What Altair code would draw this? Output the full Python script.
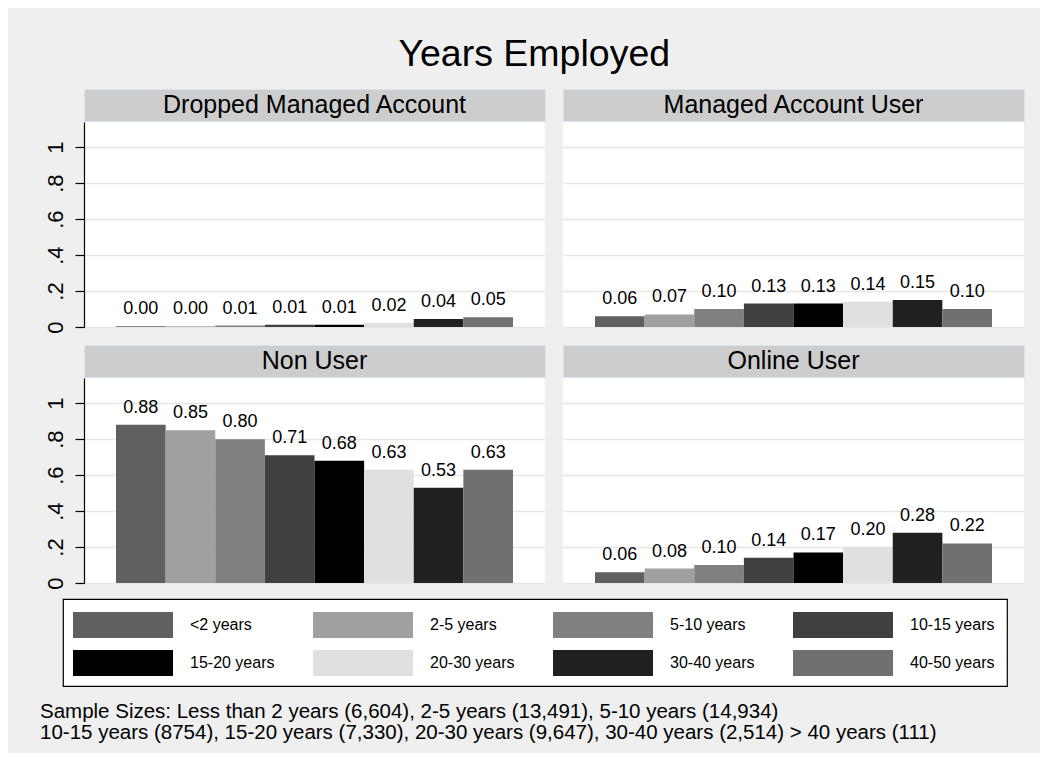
import altair as alt
import pandas as pd

FONT = "Liberation Sans"

categories = ["<2 years", "2-5 years", "5-10 years", "10-15 years",
              "15-20 years", "20-30 years", "30-40 years", "40-50 years"]
colors = ["#606060", "#a0a0a0", "#808080", "#404040",
          "#000000", "#e0e0e0", "#202020", "#707070"]

panel_names = ["Dropped Managed Account", "Managed Account User", "Non User", "Online User"]
dropped = [0.004, 0.004, 0.008, 0.012, 0.013, 0.022, 0.044, 0.054]
managed = [0.06, 0.07, 0.10, 0.13, 0.13, 0.14, 0.15, 0.10]
non_user = [0.88, 0.85, 0.80, 0.71, 0.68, 0.63, 0.53, 0.63]
online = [0.06, 0.08, 0.10, 0.14, 0.17, 0.20, 0.28, 0.22]

y_ticks = [0, 0.2, 0.4, 0.6, 0.8, 1.0]
title_text = "Years Employed"
notes = [
    "Sample Sizes: Less than 2 years (6,604), 2-5 years (13,491), 5-10 years (14,934)",
    "10-15 years (8754), 15-20 years (7,330), 20-30 years (9,647), 30-40 years (2,514) > 40 years (111)",
]

PW, PH, SH = 461, 205, 32
color_scale = alt.Scale(domain=categories, range=colors)


def panel(name, values, left):
    df = pd.DataFrame({"cat": categories, "value": values})
    if left:
        yaxis = alt.Axis(values=y_ticks, title=None, grid=True, gridColor="#e6e6e6", gridWidth=1.5,
                         domainColor="black", domainWidth=1.2, tickColor="black", tickSize=9,
                         tickWidth=1.2, labelPadding=8, labelAngle=270, labelAlign="center",
                         labelBaseline="bottom", labelFontSize=22, labelFont=FONT, labelColor="black",
                         labelExpr="datum.value == 0 ? '0' : datum.value == 1 ? '1' : replace(format(datum.value, '.1f'), '0.', '.')")
    else:
        yaxis = alt.Axis(values=y_ticks, title=None, grid=True, gridColor="#e6e6e6", gridWidth=1.5,
                         labels=False, ticks=False, domain=False)
    base = alt.Chart(df).encode(
        x=alt.X("cat:N", sort=categories, axis=None,
                scale=alt.Scale(paddingInner=0, paddingOuter=0.645)),
        y=alt.Y("value:Q", scale=alt.Scale(domain=[0, 1.14], nice=False, zero=True), axis=yaxis),
    )
    bars = base.mark_bar().encode(color=alt.Color("cat:N", scale=color_scale, legend=None))
    labels = base.mark_text(dy=-12, baseline="alphabetic", fontSize=18, font=FONT, color="black").encode(
        text=alt.Text("value:Q", format=".2f"))
    plot = alt.layer(bars, labels).properties(
        width=PW, height=PH, view=alt.ViewBackground(fill="white", stroke="white", strokeWidth=0))
    strip = alt.Chart(pd.DataFrame({"panel": [name]})).mark_text(
        fontSize=25, font=FONT, baseline="middle", color="black").encode(text="panel:N").properties(
        width=PW, height=SH, view=alt.ViewBackground(fill="#cdcdcd", stroke="#dae4ea", strokeWidth=1))
    return alt.vconcat(strip, plot, spacing=0)


def spacer():
    # invisible narrow column: sets the row origin where the legend box starts
    return alt.Chart(pd.DataFrame({"s": [""]})).mark_text(opacity=0).encode(text="s:N").properties(
        width=1, height=SH + PH)


def row(n1, v1, n2, v2):
    left = alt.hconcat(spacer(), panel(n1, v1, True), spacing=-21)
    return alt.hconcat(left, panel(n2, v2, False), spacing=16)


row1 = row(panel_names[0], dropped, panel_names[1], managed)
row2 = row(panel_names[2], non_user, panel_names[3], online)
grid = alt.vconcat(row1, row2, spacing=10).properties(
    title=alt.TitleParams(text=title_text, fontSize=37.5, font=FONT, fontWeight="normal",
                          color="black", anchor="middle", offset=-15, baseline="alphabetic"))

# legend
LW, LH = 944, 87
leg_df = pd.DataFrame({"cat": categories,
                       "col": [i % 4 for i in range(len(categories))],
                       "row": [i // 4 for i in range(len(categories))]})
lx = alt.X("col:Q", axis=None, scale=alt.Scale(domain=[-10 / 240, (LW - 10) / 240], nice=False, zero=False))
ly = alt.Y("row:Q", axis=None, scale=alt.Scale(domain=[-26 / 38, (LH - 26) / 38], nice=False, zero=False, reverse=True))
leg_base = alt.Chart(leg_df).encode(x=lx, y=ly)
leg_rect = leg_base.mark_rect(x2Offset=100, yOffset=-13, y2Offset=13).encode(
    x2=alt.X2("col:Q"), y2=alt.Y2("row:Q"),
    color=alt.Color("cat:N", scale=color_scale, legend=None))
leg_text = leg_base.mark_text(dx=117, align="left", baseline="middle", fontSize=16, font=FONT,
                              color="black").encode(text="cat:N")
legend = alt.layer(leg_rect, leg_text).properties(
    width=LW, height=LH,
    view=alt.ViewBackground(fill="white", stroke="black", strokeWidth=1.2))

chart = alt.vconcat(grid, legend, spacing=8).properties(
    title=alt.TitleParams(text=notes, orient="bottom", anchor="start", fontSize=20.5, font=FONT,
                          fontWeight="normal", color="black", dx=-4, offset=15, lineHeight=21,
                          baseline="top"),
    background="#efefef",
    padding={"left": 31, "top": 28, "right": 15, "bottom": 9},
).configure_view(stroke=None)

chart.save("out.html", embed_options={"renderer": "svg", "actions": False})
